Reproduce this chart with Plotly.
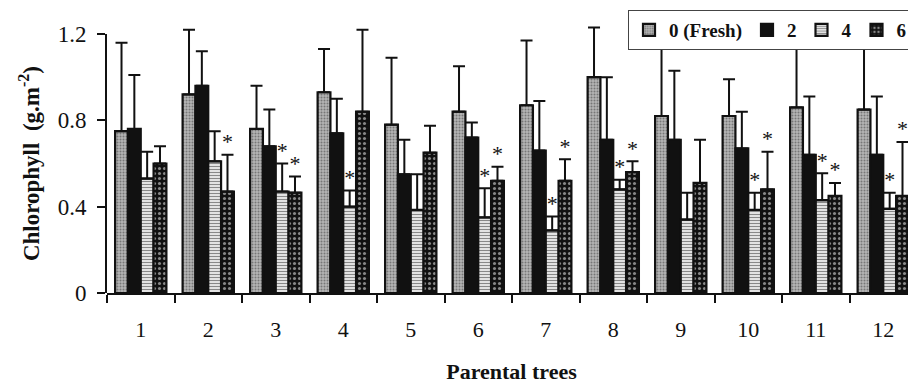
import plotly.graph_objects as go

categories = [str(i) for i in range(1, 13)]
series_names = ["0 (Fresh)", "2", "4", "6"]

fresh = [0.75, 0.92, 0.76, 0.93, 0.78, 0.84, 0.87, 1.00, 0.82, 0.82, 0.86, 0.85]
fresh_err = [0.41, 0.30, 0.20, 0.20, 0.31, 0.21, 0.30, 0.23, 0.31, 0.17, 0.29, 0.30]

d2 = [0.76, 0.96, 0.68, 0.74, 0.55, 0.72, 0.66, 0.71, 0.71, 0.67, 0.64, 0.64]
d2_err = [0.25, 0.16, 0.17, 0.16, 0.16, 0.07, 0.23, 0.29, 0.32, 0.17, 0.27, 0.27]

d4 = [0.53, 0.61, 0.47, 0.40, 0.385, 0.35, 0.29, 0.48, 0.34, 0.385, 0.43, 0.39]
d4_err = [0.125, 0.14, 0.13, 0.075, 0.165, 0.135, 0.065, 0.045, 0.125, 0.08, 0.125, 0.075]

d6 = [0.60, 0.47, 0.465, 0.84, 0.65, 0.52, 0.52, 0.56, 0.51, 0.48, 0.45, 0.45]
d6_err = [0.08, 0.17, 0.075, 0.38, 0.125, 0.065, 0.10, 0.05, 0.20, 0.175, 0.06, 0.25]

# significance flags (asterisks)
d4_sig = [0, 0, 1, 1, 0, 1, 1, 1, 0, 1, 1, 1]
d6_sig = [0, 1, 1, 0, 0, 1, 1, 1, 0, 1, 1, 1]

y_tick_vals = [0, 0.4, 0.8, 1.2]
y_tick_text = ["0", "0.4", "0.8", "1.2"]

FONT = "Liberation Serif"
xs = list(range(1, 13))

styles = [
    dict(color="#a8a8a8", pattern=dict(shape=".", fgcolor="#3a3a3a", bgcolor="#b4b4b4", size=3, solidity=0.35)),
    dict(color="#111111"),
    dict(color="white", pattern=dict(shape="-", fgcolor="#111111", bgcolor="white", size=3, solidity=0.5)),
    dict(color="#111111", pattern=dict(shape=".", fgcolor="white", bgcolor="#111111", size=5, solidity=0.3)),
]
values = [fresh, d2, d4, d6]
errs = [fresh_err, d2_err, d4_err, d6_err]

fig = go.Figure()
for name, v, e, st in zip(series_names, values, errs, styles):
    fig.add_trace(go.Bar(
        x=xs, y=v, name=name,
        marker=dict(line=dict(color="#111111", width=2.2), **st),
        error_y=dict(type="data", array=e, arrayminus=[0]*len(e), symmetric=False,
                     color="#111111", thickness=2, width=6),
    ))

bargap = 0.24
n = 4
bw = (1 - bargap) / n
star_x, star_y = [], []
for idx, (v, e, sig) in enumerate([(d4, d4_err, d4_sig), (d6, d6_err, d6_sig)]):
    trace_i = 2 + idx
    off = -(1 - bargap) / 2 + (trace_i + 0.5) * bw
    for g, (vv, ee, s) in enumerate(zip(v, e, sig)):
        if s:
            star_x.append(xs[g] + off)
            star_y.append(vv + ee)

# asterisks as a text trace on the visible (0-1.2) axis
fig.add_trace(go.Scatter(
    x=star_x, y=star_y, yaxis="y2", mode="text", text=["*"] * len(star_x),
    textposition="top center", textfont=dict(family=FONT, size=22, color="#111111"),
    showlegend=False, hoverinfo="skip", cliponaxis=False,
))

# page body has an 8px margin: figure is sized so it ends at the window edge
W, H = 908, 376
top_px, bottom_px = 13, 285          # plot area in figure pixels
px_per_unit = 259 / 1.2
y_top = (bottom_px - top_px) / px_per_unit

fig.update_layout(
    width=W, height=H,
    margin=dict(l=99, r=0, t=top_px, b=H - bottom_px, autoexpand=False),
    paper_bgcolor="white", plot_bgcolor="rgba(0,0,0,0)",
    barmode="group", bargap=bargap, bargroupgap=0,
    font=dict(family=FONT, color="#111111"),
    showlegend=True,
    legend=dict(orientation="h", xref="container", yref="container",
                x=904 / W, xanchor="right", y=1 - 2 / H, yanchor="top",
                bordercolor="#444444", borderwidth=1, bgcolor="white",
                font=dict(family=FONT, size=19, weight="bold", color="#111111"),
                itemwidth=30, tracegroupgap=0),
    xaxis=dict(
        range=[0.5, 12.485], tickmode="array", tickvals=xs, ticktext=categories,
        ticks="", ticklabelstandoff=16, showline=True, linecolor="#111111", linewidth=2,
        showgrid=False, zeroline=False, automargin=False,
        tickfont=dict(family=FONT, size=22, color="#111111"),
        minor=dict(tickmode="array", tickvals=[i + 0.5 for i in range(0, 13)], ticks="outside",
                   ticklen=8, tickwidth=2, tickcolor="#111111", showgrid=False),
        title=dict(text="Parental trees", standoff=22,
                   font=dict(family=FONT, size=22, weight="bold", color="#111111")),
    ),
    yaxis=dict(range=[0, y_top], visible=False, showgrid=False, zeroline=False, automargin=False),
    yaxis2=dict(
        anchor="x", domain=[0, 1.2 / y_top], range=[0, 1.2],
        tickmode="array", tickvals=y_tick_vals, ticktext=y_tick_text,
        ticks="outside", ticklen=8, tickwidth=2,
        tickcolor="#111111", showline=True, linecolor="#111111", linewidth=2,
        showgrid=False, zeroline=False, ticklabelstandoff=6, automargin=False,
        tickfont=dict(family=FONT, size=23, color="#111111"),
        title=dict(text="Chlorophyll  (g.m<sup>-2</sup>)", standoff=12,
                   font=dict(family=FONT, size=23, weight="bold", color="#111111")),
    ),
)

fig.write_html("out.html")
